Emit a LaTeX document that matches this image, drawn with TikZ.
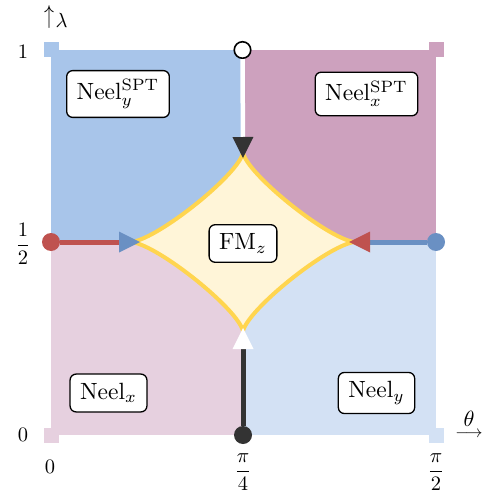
\documentclass[tikz,border=0pt]{standalone}
\usepackage{amsmath}
\usepackage{graphicx}
\usetikzlibrary{arrows.meta}
\definecolor{qTL}{HTML}{A8C5EA}
\definecolor{qTR}{HTML}{CDA1BE}
\definecolor{qBL}{HTML}{E6D0DF}
\definecolor{qBR}{HTML}{D3E1F4}
\definecolor{yfill}{HTML}{FFF5D8}
\definecolor{yline}{HTML}{FFD54F}
\definecolor{cred}{HTML}{BF524F}
\definecolor{cblue}{HTML}{6A90C3}
\definecolor{cdark}{HTML}{333333}
\newcommand{\bigtxt}[1]{\scalebox{2.35}{#1}}
\newcommand{\labtxt}[1]{\scalebox{2.05}{#1}}
\begin{document}
\begin{tikzpicture}[x=1pt,y=-1pt,
  phase/.style={draw=black, line width=1.3pt, fill=white, rounded corners=6pt,
    inner xsep=10pt, inner ysep=9pt},
  lab/.style={inner sep=0pt},
  dot/.style={circle, inner sep=0pt, minimum size=18pt},
  tip/.style={-{Triangle[length=21pt,width=21pt,line width=0pt,color=#1]}}]
\useasboundingbox (0,0) rectangle (489,500);
% quadrants
\fill[qTL] (51,50) rectangle (243,242);
\fill[qTR] (243,50) rectangle (436,242);
\fill[qBL] (51,242) rectangle (243,435);
\fill[qBR] (243,242) rectangle (436,435);
% corner squares
\fill[qTL] (43.5,42.5) rectangle +(15,15);
\fill[qTR] (428.5,42.5) rectangle +(15,15);
\fill[qBL] (43.5,427.5) rectangle +(15,15);
\fill[qBR] (428.5,427.5) rectangle +(15,15);
% FM region
\path[fill=yfill, draw=yline, line width=4pt, line join=round]
  (132,242) .. controls (159.75,237.55) and (237.45,175.25) .. (243,153)
  .. controls (248.55,175.25) and (326.25,237.55) .. (354,242)
  .. controls (326.25,246.45) and (248.55,308.75) .. (243,331)
  .. controls (237.45,308.75) and (159.75,246.45) .. cycle;
% end points
\node[dot, fill=cred] (lc) at (51,242) {};
\node[dot, fill=cblue] (rc) at (436,242) {};
\node[dot, fill=cdark] (bc) at (243,435) {};
\node[circle, inner sep=0pt, minimum size=16.5pt, draw=black, line width=1.6pt, fill=white] (tc) at (242.5,50) {};
\coordinate (lt) at (140,242);
\coordinate (rt) at (349,242);
\coordinate (bt) at (243,328);
\coordinate (tt) at (243,158);
\draw[cred, line width=5pt, tip=cblue] (lc) -- (lt);
\draw[cblue, line width=5pt, tip=cred] (rc) -- (rt);
\draw[cdark, line width=5pt, tip=white] (bc) -- (bt);
\draw[white, line width=4.5pt, tip=cdark] (tc) -- (tt);
% phase labels
\node[phase] (nys) at (118,94) {\bigtxt{Neel$_y^{\mathrm{SPT}}$}};
\node[phase] (nxs) at (366.5,94) {\bigtxt{Neel$_x^{\mathrm{SPT}}$}};
\node[phase] (fm) at (243,243.5) {\bigtxt{FM$_z$}};
\node[phase] (nx) at (108.5,393) {\bigtxt{Neel$_x$}};
\node[phase] (ny) at (376.5,393) {\bigtxt{Neel$_y$}};
% axis labels
\node[lab] (y1) at (23,51.5) {\labtxt{$1$}};
\node[lab] (yh) at (23,244) {\labtxt{$\dfrac{1}{2}$}};
\node[lab] (y0) at (23,435) {\labtxt{$0$}};
\node[lab] (x0) at (50,467) {\labtxt{$0$}};
\node[lab] (xq) at (243,472) {\labtxt{$\dfrac{\pi}{4}$}};
\node[lab] (xh) at (436,472) {\labtxt{$\dfrac{\pi}{2}$}};
\node[lab, anchor=base west] (lam) at (44,29)
  {\scalebox{2}[2.6]{\raisebox{1.94pt}{$\uparrow$}}\kern1.5pt\raisebox{1.2pt}{\scalebox{2.05}{$\lambda$}}};
\node[lab] (th) at (469,419) {\scalebox{2.2}{$\theta$}};
\node[lab] (tharr) at (469,434) {\scalebox{1.7}{$\longrightarrow$}};
\end{tikzpicture}
\end{document}
